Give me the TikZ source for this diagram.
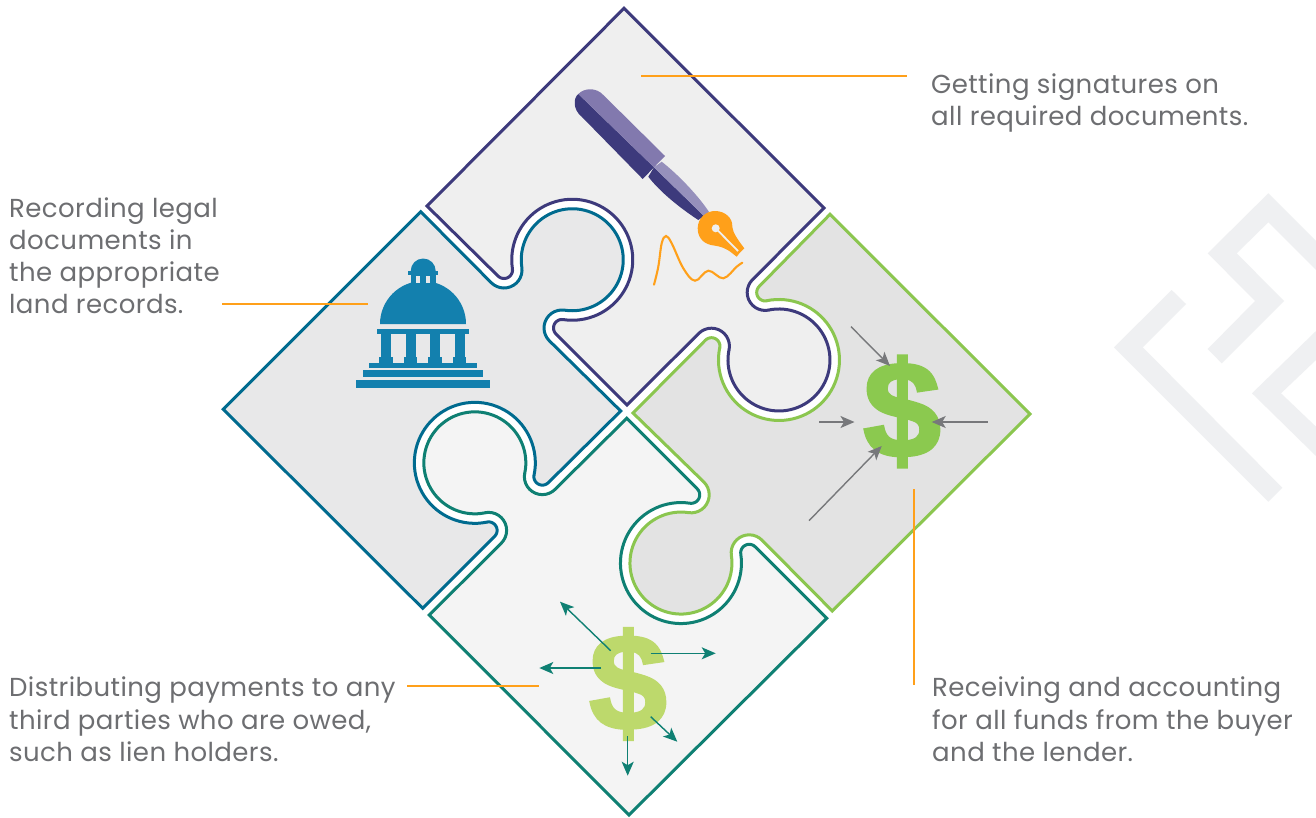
\documentclass[tikz,border=0pt]{standalone}
\usepackage{graphicx}
\usepackage{fontspec}
\setmainfont[LetterSpace=1.6]{Poppins}
\newfontfamily\dollarfont[BoldFeatures={FakeBold=2.5}]{Liberation Sans}
\usetikzlibrary{arrows.meta}
\definecolor{cpurple}{HTML}{3D3A7C}
\definecolor{cblue}{HTML}{006B8F}
\definecolor{cgreen}{HTML}{8BC64F}
\definecolor{cteal}{HTML}{0F8073}
\definecolor{ftop}{HTML}{EFEFEF}
\definecolor{fleft}{HTML}{E8E8E9}
\definecolor{fright}{HTML}{E3E3E3}
\definecolor{fbottom}{HTML}{F4F4F4}
\definecolor{cdome}{HTML}{1380AE}
\definecolor{corange}{HTML}{FFA01A}
\definecolor{cgrey}{HTML}{77787B}
\definecolor{ctext}{HTML}{6D6E71}
\definecolor{cmark}{HTML}{EFF0F2}
\definecolor{penlight}{HTML}{8279AE}
\definecolor{gripl}{HTML}{9690BC}
\definecolor{cdollarA}{HTML}{8BC94F}
\definecolor{cdollarB}{HTML}{BDD96C}
\newcommand\ArcSeg[9]{-- plot[domain=#7:#8,samples=#9,variable=\t] ({#1+((#4)+(#6)*cos(\t))*cos(#3)+((#5)+(#6)*sin(\t))*sin(#3)},{#2+((#4)+(#6)*cos(\t))*sin(#3)-((#5)+(#6)*sin(\t))*cos(#3)})}
% foot x, foot y, axis angle, offset, centre distance, fillet spread, tangent angle
\newcommand\EdgeFwd[7]{\ArcSeg{#1}{#2}{#3}{-#6}{8.5}{8.5+#4}{-90}{#7}{14} \ArcSeg{#1}{#2}{#3}{0}{#5}{60.5-#4}{#7+180}{-#7}{70} \ArcSeg{#1}{#2}{#3}{#6}{8.5}{8.5+#4}{180-#7}{270}{14}}
\newcommand\EdgeRev[7]{\ArcSeg{#1}{#2}{#3}{#6}{8.5}{8.5+#4}{270}{180-#7}{14} \ArcSeg{#1}{#2}{#3}{0}{#5}{60.5-#4}{-#7}{#7+180}{70} \ArcSeg{#1}{#2}{#3}{-#6}{8.5}{8.5+#4}{#7}{-90}{14}}
\tikzset{
  piece/.style={line width=3pt,miter limit=10,line join=miter},
  leader/.style={draw=corange,line width=1.5pt},
  inarrow/.style={draw=cgrey,line width=1.4pt,-{Stealth[length=14pt,width=12pt,inset=3.5pt]}},
  outarrow/.style={draw=cteal,line width=1.4pt,-{Stealth[length=14pt,width=12pt,inset=3.5pt]}},
  caption/.style={anchor=north west,inner sep=0pt,align=left,text=ctext,font=\fontsize{26}{32}\selectfont},
  dollar/.style={inner sep=0pt,font=\dollarfont\bfseries\fontsize{136}{136}\selectfont},
}
\begin{document}
\begin{tikzpicture}[x=1pt,y=-1pt]
\useasboundingbox (0,0) rectangle (1316,817);
\fill[white] (0,0) rectangle (1316,817);
% background mark
\fill[cmark] (1171.7,290) -- (1114,347.3) -- (1268.3,501.7) -- (1282.3,487.7) -- (1142.7,347.3) -- (1186,304) -- cycle;
\fill[cmark] (1268.3,193.3) -- (1316,241) -- (1316,270) -- (1268.3,222.3) -- (1236.7,253.3) -- (1284,301) -- (1221.7,363.3) -- (1207.7,349) -- (1255,301) -- (1207.7,253.3) -- cycle;
\fill[cmark] (1316,331) -- (1252,393.3) -- (1316,456) -- (1316,426.7) -- (1281,393.3) -- (1316,360) -- cycle;
% pieces
\filldraw[piece,draw=cpurple,fill=ftop] (624,8.3) -- (824,208)
  \EdgeFwd{732.3}{313.3}{135}{9.5}{66}{38}{56.5} -- (627,405)
  \EdgeRev{527}{305}{45}{0}{64}{41}{53.5} -- (427,206) -- cycle;
\filldraw[piece,draw=cblue,fill=fleft] (420.7,211.7)
  \EdgeFwd{527}{305}{45}{9.5}{64}{41}{53.5} -- (620.7,411)
  \EdgeRev{521.5}{509.5}{315}{0}{66}{38}{56.5} -- (422.7,608.3) -- (223.3,409.3) -- cycle;
\filldraw[piece,draw=cgreen,fill=fright] (830,214.3) -- (1030,414) -- (832.3,611)
  \EdgeFwd{726.2}{517.8}{225}{9.5}{64}{41}{53.5} -- (633,413)
  \EdgeRev{732.3}{313.3}{135}{0}{66}{38}{56.5} -- cycle;
\filldraw[piece,draw=cteal,fill=fbottom] (626.7,418.3)
  \EdgeRev{726.2}{517.8}{225}{0}{64}{41}{53.5} -- (826.7,618.3) -- (629,815) -- (429.3,615)
  \EdgeFwd{521.5}{509.5}{315}{9.5}{66}{38}{56.5} -- cycle;
% pen
\fill[cpurple] (578.3,94) .. controls (573,98) and (573,110) .. (581.7,116.7) -- (642.7,179) -- (654,167.3) -- cycle;
\fill[penlight] (578.3,94) .. controls (584,88) and (596,87) .. (603.3,95) -- (665,156) -- (654,167.3) -- cycle;
\fill[cpurple] (654,167.3) -- (648.3,176.7) .. controls (660,192) and (680,208) .. (698.3,220) -- (704,216) -- cycle;
\fill[gripl] (654,167.3) -- (661.7,161.7) .. controls (680,176) and (700,198) .. (709,212) -- (704,216) -- cycle;
% nib
\fill[corange] (744.3,248.3) -- (740,252.5) -- (736.7,256.7) -- (730,251.5) .. controls (722,246) and (716,246) .. (711,245) .. controls (702,243) and (697.5,236) .. (697.7,228) .. controls (698,218) and (706,211) .. (715,211) .. controls (725,211) and (733,218) .. (732.3,227) .. controls (733,233) and (738,240) .. cycle;
\fill[ftop] (715.7,228.3) circle[radius=4];
\draw[ftop,line width=1.8pt] (715.7,228.3) -- (738,251);
% signature
\draw[corange,line width=2.1pt,line cap=round] plot[smooth,tension=0.6] coordinates {(654,284.7) (658.3,266.7) (661.7,243.3) (666,236) (671.7,243.3) (683.3,268.3) (695,280.7) (708.3,270.7) (723.3,278.3) (736.7,266.7) (742.3,262.7)};
% building
\fill[cdome] (380,324) arc[start angle=180,end angle=360,x radius=43,y radius=43] -- cycle;
\fill[cdome] (410.7,271) arc[start angle=180,end angle=360,radius=12.5] -- cycle;
\fill[cdome] (408.3,270.7) rectangle (437.7,275.3);
\fill[cdome] (410.7,275.3) rectangle (435.7,285);
\fill[fleft] (416,275.7) rectangle (420.3,282.7);
\fill[fleft] (425.7,275.7) rectangle (430.3,282.7);
\fill[cdome] (376.7,329) rectangle (469,333.7);
\foreach \cx in {386,410.7,435,459.7}{
  \fill[cdome] (\cx-5,333.7) rectangle (\cx+5,358);
  \fill[cdome] (\cx-6.7,357) rectangle (\cx+6.7,363);
}
\fill[cdome] (369,362.7) rectangle (476.7,367.7);
\fill[cdome] (363,370) rectangle (483,377);
\fill[cdome] (356,380) rectangle (490,388);
% dollars
\node[dollar,text=cdollarA] (dollarright) at (902,411.5) {\scalebox{1.02}[1]{\$}};
\node[dollar,text=cdollarB] (dollarbottom) at (628,684) {\scalebox{1.02}[1]{\$}};
% grey arrows
\coordinate (g1a) at (851,326.7); \coordinate (g1b) at (890,366);
\coordinate (g2a) at (819,422); \coordinate (g2b) at (854.5,422);
\coordinate (g3a) at (987.7,422); \coordinate (g3b) at (931.7,422);
\coordinate (g4a) at (809,520.7); \coordinate (g4b) at (881.7,446);
\draw[inarrow] (g1a) -- (g1b);
\draw[inarrow] (g2a) -- (g2b);
\draw[inarrow] (g3a) -- (g3b);
\draw[inarrow] (g4a) -- (g4b);
% teal arrows
\coordinate (t1a) at (610.7,650.7); \coordinate (t1b) at (560,601.7);
\coordinate (t2a) at (601,668); \coordinate (t2b) at (539.3,668);
\coordinate (t3a) at (650.7,653.3); \coordinate (t3b) at (715.7,653.3);
\coordinate (t4a) at (650.7,716.7); \coordinate (t4b) at (677.3,741.7);
\coordinate (t5a) at (627.7,736); \coordinate (t5b) at (627.7,775.7);
\draw[outarrow] (t1a) -- (t1b);
\draw[outarrow] (t2a) -- (t2b);
\draw[outarrow] (t3a) -- (t3b);
\draw[outarrow] (t4a) -- (t4b);
\draw[outarrow] (t5a) -- (t5b);
% leaders
\coordinate (la1) at (641,76); \coordinate (lb1) at (907,76);
\coordinate (la2) at (222,304); \coordinate (lb2) at (368,304);
\coordinate (la3) at (407,686); \coordinate (lb3) at (539,686);
\coordinate (la4) at (914,489); \coordinate (lb4) at (914,685);
\draw[leader] (la1) -- (lb1);
\draw[leader] (la2) -- (lb2);
\draw[leader] (la3) -- (lb3);
\draw[leader] (la4) -- (lb4);
% captions
\node[caption] (captop) at (931,74) {Getting signatures on\\all required documents.};
\node[caption] (capleft) at (9,198) {Recording legal\\documents in\\the appropriate\\land records.};
\node[caption] (capbottom) at (9,677) {Distributing payments to any\\third parties who are owed,\\such as lien holders.};
\node[caption] (capright) at (932,677) {Receiving and accounting\\for all funds from the buyer\\and the lender.};
\end{tikzpicture}
\end{document}
